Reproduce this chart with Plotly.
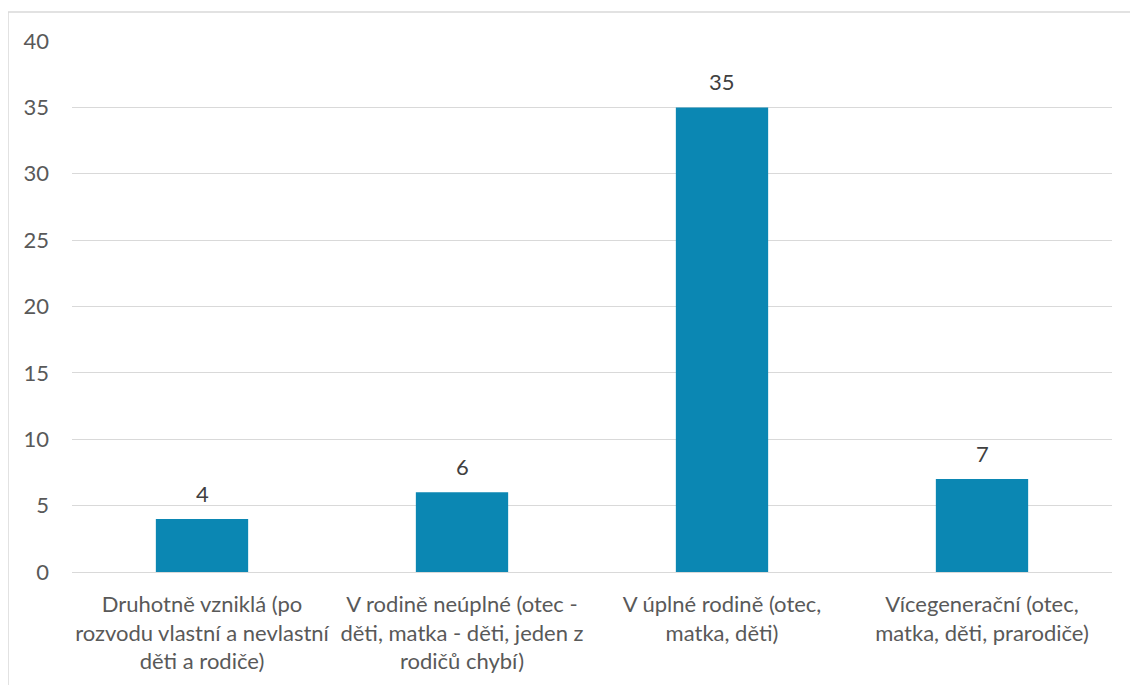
import plotly.graph_objects as go

categories = [
    "Druhotně vzniklá (po<br>rozvodu vlastní a nevlastní<br>děti a rodiče)",
    "V rodině neúplné (otec -<br>děti, matka - děti, jeden z<br>rodičů chybí)",
    "V úplné rodině (otec,<br>matka, děti)",
    "Vícegenerační (otec,<br>matka, děti, prarodiče)",
]
values = [4, 6, 35, 7]
y_ticks = [0, 5, 10, 15, 20, 25, 30, 35, 40]

FONT = "Lato, 'Open Sans', sans-serif"
FS = 22
# page body has an 8px margin, so the figure is offset by 8px
W, H = 1130, 677
L, R, T, B = 64, 26, 33, 113

fig = go.Figure(
    go.Bar(
        x=categories,
        y=values,
        width=0.355,
        marker=dict(color="#0B87B3", line=dict(width=0)),
        hoverinfo="x+y",
    )
)

annotations = [
    dict(x=c, y=v, xref="x", yref="y", text=str(v), showarrow=False,
         yanchor="bottom", yshift=10,
         font=dict(family=FONT, size=FS, color="#404040"))
    for c, v in zip(categories, values)
]

pw, ph = W - L - R, H - T - B
bx = (0 - L) / pw
by = (H - B - 4) / ph
fig.update_layout(
    width=W,
    height=H,
    margin=dict(l=L, r=R, t=T, b=B),
    paper_bgcolor="white",
    plot_bgcolor="white",
    showlegend=False,
    font=dict(family=FONT, size=FS, color="#595959"),
    xaxis=dict(
        showgrid=False,
        showline=False,
        ticks="",
        tickfont=dict(family=FONT, size=FS, color="#595959"),
        ticklabelstandoff=17,
    ),
    yaxis=dict(
        range=[0, 40],
        tickvals=y_ticks,
        showgrid=True,
        gridcolor="#D9D9D9",
        gridwidth=1.3,
        zeroline=True,
        zerolinecolor="#D9D9D9",
        zerolinewidth=1.3,
        showline=False,
        ticks="",
        tickfont=dict(family=FONT, size=FS, color="#595959"),
        ticklabelstandoff=22,
    ),
    annotations=annotations,
    shapes=[
        dict(type="line", xref="paper", yref="paper",
             x0=bx, x1=bx, y0=by, y1=-0.5,
             line=dict(color="#D9D9D9", width=1.5)),
        dict(type="line", xref="paper", yref="paper",
             x0=bx, x1=1.2, y0=by, y1=by,
             line=dict(color="#D9D9D9", width=1.5)),
    ],
)

fig.write_html("out.html")
